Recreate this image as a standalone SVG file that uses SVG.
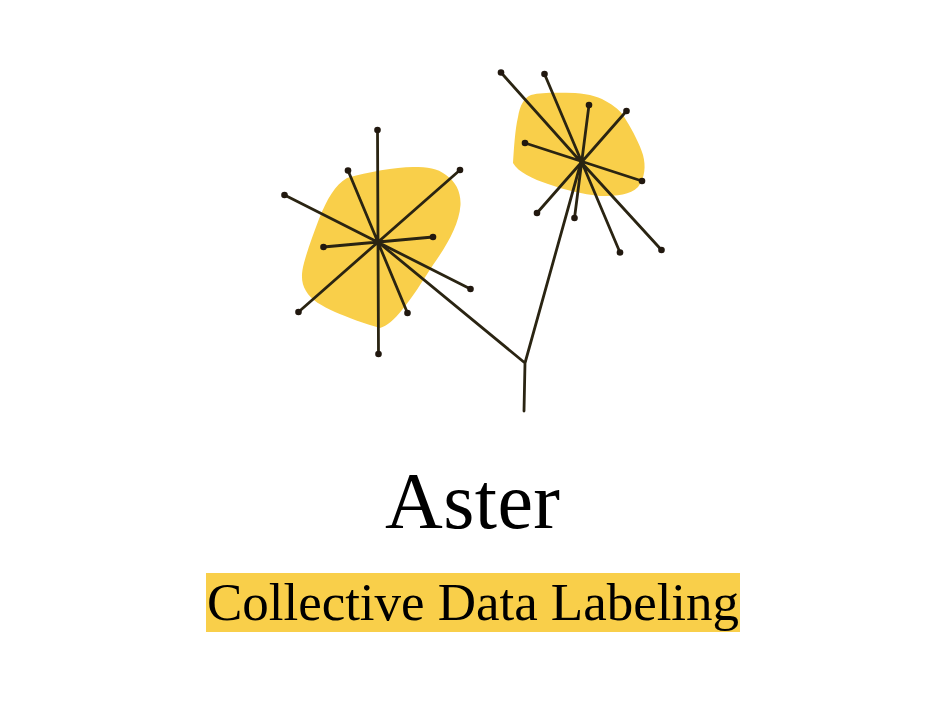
<svg xmlns="http://www.w3.org/2000/svg" width="950" height="718" viewBox="0 0 950 718">
<style>
.blob{fill:#f9cf4a}
.l{stroke:#2a2412;stroke-width:2.8;fill:none;stroke-linecap:round;stroke-linejoin:round}
.d{fill:#21180f}
text{font-family:"Liberation Serif","DejaVu Serif",serif;fill:#000;text-anchor:middle}
</style>
<rect width="950" height="718" fill="#fff"/>
<g id="blob-left"><path class="blob" d="M347 178C368 172 395 167 413 167C428 167 437 168 446 175C456 182 461 192 460.500 205C459 225 447 245 433 265C422 282 412 298 402 310C394 320 387 326 380 328C365 324 347 317 335 312C322 306 311 300 306 291C301 283 301 274 304 263C308 248 313 235 319 219C327 199 335 185 347 178Z"/></g>
<g id="blob-right"><path class="blob" d="M513 163C514 148 515 130 518 117C520 105 524 98 531 95C543 92 560 93 575 93C590 94 600 97 609 103C617 108 622 112 626 120C633 131 640 145 643 155C646 166 645 178 638 187C630 195 618 196 600 196C582 194 565 190 548 184C533 179 518 172 513 163Z"/></g>
<g id="connectors">
<path class="l" d="M524 411L525 363L378 242M525 363L581 162"/>
<path class="l" d="M377.500 130L378.500 354M460 170L298.500 312M284.500 195L470.500 289M348 170.500L407.500 313M323.500 247L433 237"/>
<path class="l" d="M501 72.500L581 162L661.500 250M544.500 74L620 252.500M589 105L574.500 218M626.500 111L537 213M525 143L642 181"/>
</g>
<g id="dots">
<circle class="d" cx="377.500" cy="130" r="3.300"/><circle class="d" cx="378.500" cy="354" r="3.300"/><circle class="d" cx="460" cy="170" r="3.300"/><circle class="d" cx="298.500" cy="312" r="3.300"/><circle class="d" cx="284.500" cy="195" r="3.300"/><circle class="d" cx="470.500" cy="289" r="3.300"/><circle class="d" cx="348" cy="170.500" r="3.300"/><circle class="d" cx="407.500" cy="313" r="3.300"/><circle class="d" cx="323.500" cy="247" r="3.300"/><circle class="d" cx="433" cy="237" r="3.300"/>
<circle class="d" cx="501" cy="72.500" r="3.300"/><circle class="d" cx="661.500" cy="250" r="3.300"/><circle class="d" cx="544.500" cy="74" r="3.300"/><circle class="d" cx="620" cy="252.500" r="3.300"/><circle class="d" cx="589" cy="105" r="3.300"/><circle class="d" cx="574.500" cy="218" r="3.300"/><circle class="d" cx="626.500" cy="111" r="3.300"/><circle class="d" cx="537" cy="213" r="3.300"/><circle class="d" cx="525" cy="143" r="3.300"/><circle class="d" cx="642" cy="181" r="3.300"/>
</g>
<g id="title"><text x="472.500" y="528" font-size="80" textLength="175">Aster</text></g>
<g id="subtitle"><rect class="blob" x="206" y="573" width="534" height="59"/><text x="473" y="620" font-size="53" textLength="532">Collective Data Labeling</text></g>
</svg>
